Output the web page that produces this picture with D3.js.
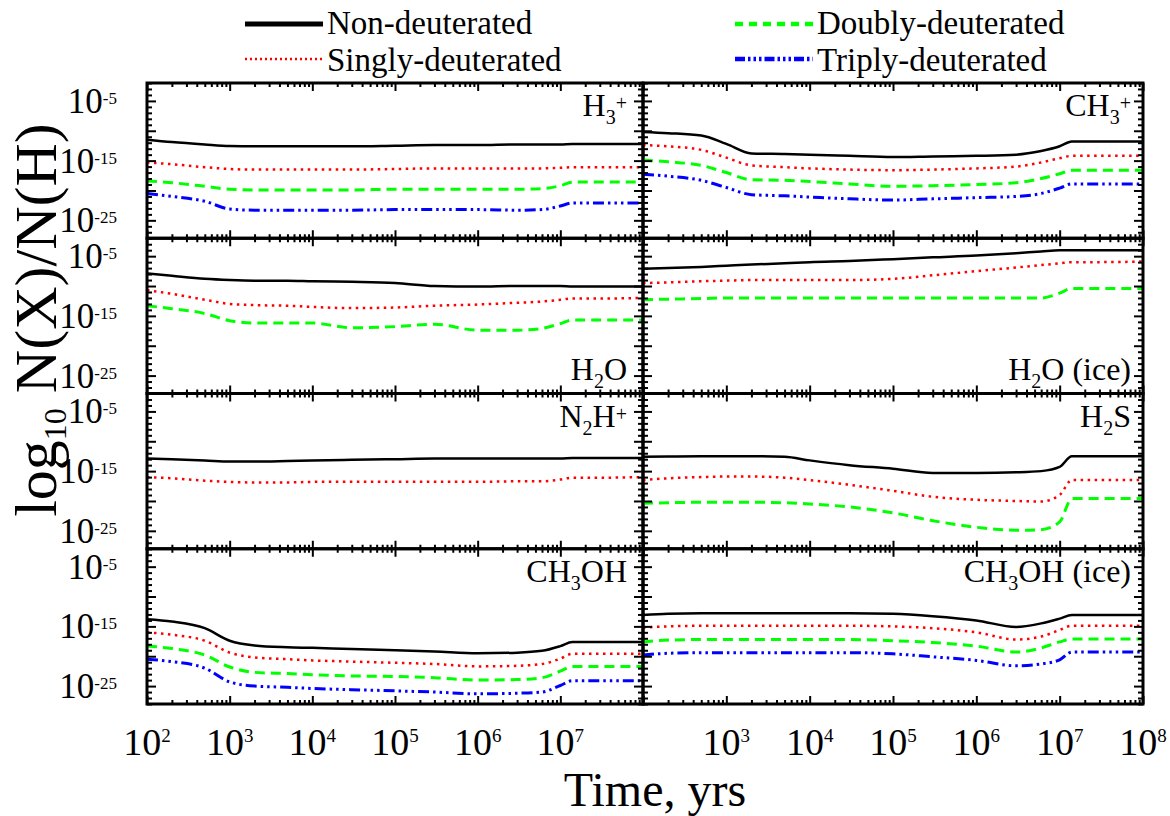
<!DOCTYPE html>
<html lang="en">
<head>
<meta charset="UTF-8">
<title>Deuterated species</title>
<script src="https://d3js.org/d3.v7.min.js"></script>
<style>
  body { margin: 0; background: #fff; }
  svg text { font-family: "Liberation Serif", "DejaVu Serif", serif; fill: #000; }
</style>
</head>
<body>
<div id="chart"></div>
<script>
// time grid, yrs
const times = [1e2, 2e2, 5e2, 1e3, 2e3, 5e3, 1e4, 3e4, 1e5, 3e5, 1e6, 3e6, 6e6, 1e7, 1.4e7, 3e7, 1e8];

// log10 N(X)/N(H) for each species: non-, singly-, doubly-, triply-deuterated
const h3p_non = [-11.5,-11.9,-12.3,-12.55,-12.6,-12.6,-12.6,-12.6,-12.5,-12.4,-12.4,-12.3,-12.3,-12.3,-12.2,-12.2,-12.2];
const h3p_s   = [-15.3,-15.6,-16.1,-16.4,-16.5,-16.5,-16.5,-16.5,-16.4,-16.3,-16.3,-16.3,-16.3,-16.2,-16.1,-16.1,-16.1];
const h3p_d   = [-18.4,-18.7,-19.3,-19.8,-19.9,-19.9,-19.9,-19.9,-19.8,-19.8,-19.8,-19.8,-19.7,-19.2,-18.6,-18.6,-18.6];
const h3p_t   = [-20.5,-21.0,-21.8,-23.1,-23.3,-23.3,-23.3,-23.3,-23.2,-23.2,-23.2,-23.3,-23.2,-22.6,-22.1,-22.1,-22.1];

const ch3p_non = [-10.2,-10.4,-10.8,-12.2,-13.8,-13.9,-14.0,-14.2,-14.4,-14.3,-14.2,-14.0,-13.4,-12.6,-11.8,-11.8,-11.8];
const ch3p_s   = [-12.4,-12.6,-13.2,-14.5,-15.8,-16.1,-16.3,-16.5,-16.6,-16.5,-16.3,-16.0,-15.3,-14.6,-14.2,-14.2,-14.2];
const ch3p_d   = [-14.9,-15.2,-15.8,-17.0,-18.2,-18.3,-18.5,-18.9,-19.3,-19.2,-19.0,-18.7,-18.0,-17.2,-16.6,-16.6,-16.6];
const ch3p_t   = [-17.3,-17.6,-18.3,-19.5,-20.7,-20.9,-21.1,-21.4,-21.6,-21.4,-21.2,-21.0,-20.5,-19.6,-18.9,-18.9,-18.9];

const h2o_non = [-7.9,-8.3,-8.8,-9.0,-9.1,-9.1,-9.2,-9.3,-9.5,-10.0,-10.1,-10.0,-10.0,-10.0,-10.1,-10.1,-10.1];
const h2o_s   = [-10.7,-11.3,-12.3,-13.0,-13.2,-13.3,-13.5,-13.7,-13.6,-13.3,-13.1,-12.8,-12.6,-12.3,-12.1,-12.1,-12.0];
const h2o_d   = [-13.3,-13.8,-14.6,-15.8,-16.2,-16.2,-16.2,-17.0,-16.8,-16.4,-17.4,-17.4,-17.1,-16.3,-15.7,-15.7,-15.7];

const h2oice_non = [-7.1,-7.0,-6.8,-6.6,-6.4,-6.2,-6.0,-5.8,-5.5,-5.2,-4.9,-4.5,-4.2,-4.0,-4.0,-4.0,-4.0];
const h2oice_s   = [-9.5,-9.4,-9.2,-9.1,-9.0,-9.0,-9.0,-9.0,-8.8,-8.2,-7.5,-6.9,-6.5,-6.2,-6.0,-6.0,-5.9];
const h2oice_d   = [-12.3,-12.2,-12.1,-12.0,-12.0,-12.0,-12.0,-12.0,-12.0,-12.0,-12.0,-12.0,-12.0,-11.2,-10.4,-10.4,-10.4];

const n2hp_non = [-12.9,-13.0,-13.2,-13.4,-13.4,-13.3,-13.2,-13.1,-13.0,-12.9,-12.9,-12.9,-12.9,-12.9,-12.8,-12.8,-12.8];
const n2hp_s   = [-16.0,-16.2,-16.6,-16.8,-16.9,-16.9,-16.8,-16.8,-16.8,-16.8,-16.8,-16.7,-16.7,-16.4,-16.1,-16.1,-16.0];

const h2s_non = [-12.6,-12.55,-12.5,-12.5,-12.5,-12.6,-13.2,-14.0,-14.6,-15.3,-15.3,-15.2,-15.0,-14.3,-12.5,-12.5,-12.5];
const h2s_s   = [-16.5,-16.2,-16.0,-15.9,-15.9,-16.1,-16.5,-17.3,-18.3,-19.3,-19.8,-20.0,-20.1,-19.0,-16.5,-16.5,-16.5];
const h2s_d   = [-20.4,-20.3,-20.2,-20.2,-20.2,-20.3,-20.5,-21.0,-22.0,-23.3,-24.4,-24.9,-24.8,-23.5,-19.6,-19.6,-19.6];

const ch3oh_non = [-13.8,-14.2,-15.3,-17.4,-18.2,-18.5,-18.6,-18.8,-19.0,-19.2,-19.5,-19.4,-19.1,-18.3,-17.6,-17.6,-17.6];
const ch3oh_s   = [-16.0,-16.4,-17.4,-19.4,-20.2,-20.5,-20.7,-20.9,-21.1,-21.3,-21.7,-21.6,-21.3,-20.4,-19.6,-19.6,-19.6];
const ch3oh_d   = [-18.3,-18.7,-19.8,-21.8,-22.7,-22.9,-23.1,-23.3,-23.4,-23.6,-24.0,-23.9,-23.6,-22.5,-21.7,-21.7,-21.7];
const ch3oh_t   = [-20.5,-20.9,-22.0,-24.3,-25.0,-25.2,-25.4,-25.6,-25.8,-26.0,-26.3,-26.2,-26.0,-24.9,-24.1,-24.1,-24.1];

const ch3ohice_non = [-13.1,-12.9,-12.8,-12.8,-12.8,-12.8,-12.8,-12.8,-12.9,-13.3,-14.0,-15.1,-14.5,-13.7,-13.1,-13.1,-13.1];
const ch3ohice_s   = [-15.2,-15.0,-14.9,-14.9,-14.9,-14.9,-14.9,-14.9,-15.0,-15.3,-16.0,-17.2,-16.7,-15.6,-14.9,-14.9,-14.9];
const ch3ohice_d   = [-17.6,-17.3,-17.2,-17.2,-17.2,-17.2,-17.2,-17.2,-17.4,-17.7,-18.3,-19.3,-18.6,-17.6,-17.1,-17.1,-17.1];
const ch3ohice_t   = [-19.8,-19.5,-19.4,-19.4,-19.4,-19.4,-19.4,-19.4,-19.6,-20.1,-20.7,-21.6,-21.3,-20.6,-19.3,-19.3,-19.3];

const seriesNames = ["Non-deuterated", "Singly-deuterated", "Doubly-deuterated", "Triply-deuterated"];
const xLabelExpLeft = [2, 3, 4, 5, 6, 7];
const xLabelExpRight = [3, 4, 5, 6, 7, 8];
const yLabelExp = [-5, -15, -25];

// panels: label parts [text, size, baseline offset]
const panels = [
  {col: 0, row: 0, at: "top", label: [["H",32,0],["3",20,8],["+",20,-6]], series: [h3p_non, h3p_s, h3p_d, h3p_t]},
  {col: 1, row: 0, at: "top", label: [["CH",32,0],["3",20,8],["+",20,-6]], series: [ch3p_non, ch3p_s, ch3p_d, ch3p_t]},
  {col: 0, row: 1, at: "bottom", label: [["H",32,0],["2",20,8],["O",32,0]], series: [h2o_non, h2o_s, h2o_d, null]},
  {col: 1, row: 1, at: "bottom", label: [["H",32,0],["2",20,8],["O (ice)",32,0]], series: [h2oice_non, h2oice_s, h2oice_d, null]},
  {col: 0, row: 2, at: "top", label: [["N",32,0],["2",20,8],["H",32,0],["+",20,-6]], series: [n2hp_non, n2hp_s, null, null]},
  {col: 1, row: 2, at: "top", label: [["H",32,0],["2",20,8],["S",32,0]], series: [h2s_non, h2s_s, h2s_d, null]},
  {col: 0, row: 3, at: "top", label: [["CH",32,0],["3",20,8],["OH",32,0]], series: [ch3oh_non, ch3oh_s, ch3oh_d, ch3oh_t]},
  {col: 1, row: 3, at: "top", label: [["CH",32,0],["3",20,8],["OH (ice)",32,0]], series: [ch3ohice_non, ch3ohice_s, ch3ohice_d, ch3ohice_t]}
];

const styles = [
  {color: "#000000", width: 2.5, dash: null},
  {color: "#ff0000", width: 2.5, dash: "2.5,4.5"},
  {color: "#00ff00", width: 3, dash: "10,6"},
  {color: "#0000ff", width: 3, dash: "11,4,2.5,4,2.5,4,2.5,4"}
];

const width = 1170, height = 816;
const colX = [[147, 643], [643, 1143]];
const top0 = 83, rowH = 155.25;

const svg = d3.select("#chart").append("svg")
    .attr("width", width)
    .attr("height", height);

function rich(text, parts) {
  let cur = 0;
  parts.forEach(([s, fs, off]) => {
    text.append("tspan").attr("font-size", fs).attr("dy", off - cur).text(s);
    cur = off;
  });
}

const xMajor = d3.range(2, 9).map(e => Math.pow(10, e));
const xMinor = [];
d3.range(2, 8).forEach(e => { for (let k = 2; k <= 9; k++) xMinor.push(k * Math.pow(10, e)); });
const yMajor = [-25, -20, -15, -10, -5].map(e => Math.pow(10, e));
const yMinor = d3.range(-28, -1).filter(e => e % 5 !== 0).map(e => Math.pow(10, e));

function ticks(g, axis, vals, size) {
  g.call(axis.tickValues(vals).tickSize(-size).tickFormat(""))
   .call(s => s.select(".domain").remove())
   .call(s => s.selectAll("line").attr("stroke", "#000").attr("stroke-width", 2));
}

panels.forEach(p => {
  const y0 = top0 + p.row * rowH, y1 = y0 + rowH;
  const [x0, x1] = colX[p.col];
  const x = d3.scaleLog().domain([1e2, 1e8]).range([x0, x1]);
  const y = d3.scaleLog().domain([1e-28, 1e-2]).range([y1, y0]);
  const g = svg.append("g");

  // curves
  const line = d3.line()
      .x((d, i) => x(times[i]))
      .y(d => y(Math.pow(10, d)))
      .curve(d3.curveMonotoneX);
  p.series.forEach((s, i) => {
    if (!s) return;
    g.append("path")
        .datum(s)
        .attr("d", line)
        .attr("fill", "none")
        .attr("stroke", styles[i].color)
        .attr("stroke-width", styles[i].width)
        .attr("stroke-dasharray", styles[i].dash);
  });

  // ticks on all four sides, pointing inward
  g.append("g").attr("transform", `translate(0,${y1})`).call(ticks, d3.axisBottom(x), xMajor, 8);
  g.append("g").attr("transform", `translate(0,${y1})`).call(ticks, d3.axisBottom(x), xMinor, 4);
  g.append("g").attr("transform", `translate(0,${y0})`).call(ticks, d3.axisTop(x), xMajor, 8);
  g.append("g").attr("transform", `translate(0,${y0})`).call(ticks, d3.axisTop(x), xMinor, 4);
  g.append("g").attr("transform", `translate(${x0},0)`).call(ticks, d3.axisLeft(y), yMajor, 9);
  g.append("g").attr("transform", `translate(${x0},0)`).call(ticks, d3.axisLeft(y), yMinor, 5);
  g.append("g").attr("transform", `translate(${x1},0)`).call(ticks, d3.axisRight(y), yMajor, 9);
  g.append("g").attr("transform", `translate(${x1},0)`).call(ticks, d3.axisRight(y), yMinor, 5);

  g.append("rect")
      .attr("x", x0).attr("y", y0)
      .attr("width", x1 - x0).attr("height", rowH)
      .attr("fill", "none")
      .attr("stroke", "#000")
      .attr("stroke-width", 3);

  // species label
  const lab = g.append("text")
      .attr("x", p.col === 0 ? 627 : 1131)
      .attr("y", p.at === "top" ? y0 + 33 : y1 - 14)
      .attr("text-anchor", "end");
  rich(lab, p.label);

  // y tick labels on left column
  if (p.col === 0) {
    yLabelExp.forEach(e => {
      const t = g.append("text")
          .attr("x", 117)
          .attr("y", y(Math.pow(10, e)) + 12)
          .attr("text-anchor", "end");
      rich(t, [["10", 35, 0], ["-" + Math.abs(e), 17, -9]]);
    });
  }

  // x tick labels on bottom row
  if (p.row === 3) {
    (p.col === 0 ? xLabelExpLeft : xLabelExpRight).forEach(e => {
      const t = g.append("text")
          .attr("x", x(Math.pow(10, e)))
          .attr("y", 755)
          .attr("text-anchor", "middle");
      rich(t, [["10", 38, 0], [String(e), 19, -13]]);
    });
  }
});

// axis titles
const yt = svg.append("text")
    .attr("transform", "translate(56,320) rotate(-90)")
    .attr("text-anchor", "middle");
rich(yt, [["log", 60, 0], ["10", 32, 10], [" N(X)/N(H)", 60, 0]]);

svg.append("text")
    .attr("x", 655)
    .attr("y", 806)
    .attr("text-anchor", "middle")
    .attr("font-size", 48)
    .text("Time, yrs");

// legend
const legendPos = [[245, 24], [245, 59], [735, 24], [735, 59]];
const legendStyles = [
  {width: 5, dash: null},
  {width: 2.5, dash: "2,3"},
  {width: 4.5, dash: "8,6"},
  {width: 4.5, dash: "10,3,2.5,3,2.5,3,2.5,3"}
];
seriesNames.forEach((name, i) => {
  const [lx, ly] = legendPos[i];
  svg.append("line")
      .attr("x1", lx).attr("x2", lx + 78)
      .attr("y1", ly).attr("y2", ly)
      .attr("stroke", styles[i].color)
      .attr("stroke-width", legendStyles[i].width)
      .attr("stroke-dasharray", legendStyles[i].dash);
  svg.append("text")
      .attr("x", lx + 82)
      .attr("y", ly + (i % 2 === 0 ? 10 : 12))
      .attr("font-size", 33)
      .text(name);
});
</script>
</body>
</html>
